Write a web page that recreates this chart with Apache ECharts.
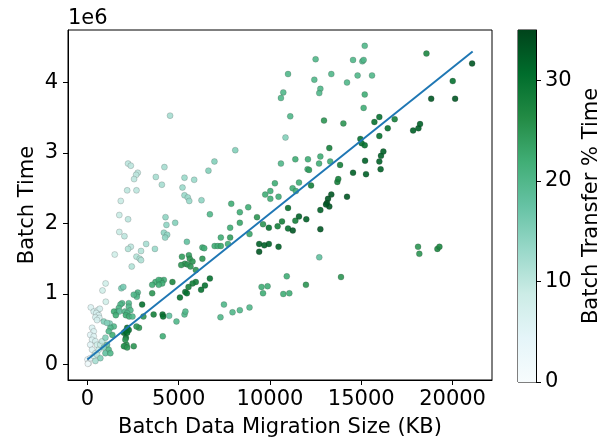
<!DOCTYPE html>
<html>
<head>
<meta charset="utf-8">
<script src="https://cdn.jsdelivr.net/npm/echarts@6/dist/echarts.min.js"></script>
<style>
  html, body { margin: 0; padding: 0; background: #fff; }
  #chart { width: 607px; height: 443px; }
</style>
</head>
<body>
<div id="chart"></div>
<script>
// [migration size KB, batch time (x1e6), transfer % time]
const batches = [
  [4530, 3.53, 12], [8100, 3.04, 15], [10990, 4.12, 20], [10730, 3.86, 20], [10600, 3.78, 20],
  [11110, 3.52, 20], [10850, 3.22, 15], [12500, 4.33, 20], [12430, 4.04, 20], [12760, 3.91, 20],
  [12700, 3.85, 20], [13360, 4.12, 20], [12960, 3.46, 25], [13250, 3.07, 28], [14020, 3.42, 25],
  [14220, 4.00, 20], [14550, 4.32, 20], [14800, 4.10, 20], [15060, 4.30, 20], [15130, 4.32, 20],
  [15190, 4.52, 20], [15590, 4.10, 20], [15190, 3.83, 22], [15130, 3.64, 22], [14950, 3.20, 30],
  [15020, 3.14, 30], [15190, 3.11, 30], [15720, 3.44, 30], [15990, 3.51, 30], [15990, 3.24, 30],
  [16450, 3.35, 30], [16830, 3.48, 28], [17840, 3.32, 32], [18130, 3.35, 32], [18220, 3.41, 32],
  [18570, 4.41, 27], [18830, 3.77, 33], [20010, 4.02, 30], [20140, 3.77, 33], [21070, 4.27, 33],
  // pale points above the fit
  [2230, 2.85, 10], [2380, 2.82, 10], [2760, 2.72, 10], [2670, 2.69, 10], [2560, 2.63, 10],
  [4220, 2.80, 12], [3750, 2.66, 12], [4080, 2.55, 12], [2180, 2.47, 10], [2690, 2.47, 10],
  [1830, 2.32, 9], [5320, 2.65, 13], [5850, 2.62, 13], [5210, 2.51, 13], [5320, 2.40, 13],
  [5500, 2.37, 13], [5580, 2.32, 13], [6250, 2.33, 14], [6630, 2.75, 15], [6960, 2.88, 15],
  [1750, 2.12, 9], [2230, 2.06, 10], [4280, 2.09, 14], [4810, 2.01, 15], [4330, 1.98, 14],
  [1750, 1.88, 9], [2030, 1.82, 10], [4190, 1.87, 14], [4370, 1.84, 14], [4260, 1.80, 14],
  [3220, 1.71, 12], [2380, 1.67, 10], [2230, 1.64, 11], [2940, 1.61, 11], [3700, 1.64, 13],
  [5450, 1.74, 18], [1500, 1.56, 8], [2690, 1.53, 11], [2870, 1.50, 11], [2430, 1.39, 11],
  [2940, 1.48, 11],
  // middle band
  [6710, 2.13, 20], [7880, 2.28, 22], [8350, 2.16, 22], [7820, 1.94, 22], [8350, 2.01, 23],
  [8810, 2.23, 22], [8880, 1.85, 23], [7310, 1.80, 22], [7820, 1.80, 24], [6970, 1.68, 22],
  [7140, 1.68, 22], [7310, 1.68, 23], [6300, 1.66, 22], [6400, 1.65, 22], [7700, 1.71, 22],
  [5180, 1.53, 24], [5560, 1.55, 24], [5610, 1.50, 25], [5760, 1.46, 25], [5340, 1.43, 25],
  [5140, 1.41, 25], [5480, 1.42, 25], [5650, 1.39, 25], [5940, 1.34, 25], [6300, 1.50, 25],
  [6710, 1.22, 30], [6440, 1.12, 30], [6230, 1.06, 30], [5940, 1.17, 28], [5760, 1.15, 28],
  [5540, 1.10, 28], [5360, 1.03, 30], [5450, 1.01, 30], [5070, 0.95, 30], [4660, 1.17, 27],
  [4190, 1.20, 22], [4020, 1.19, 22], [3730, 1.17, 22], [3910, 1.20, 22], [4100, 1.15, 22],
  [3910, 1.13, 22], [3550, 1.13, 22], [3550, 1.01, 25], [3000, 0.85, 30], [3630, 0.71, 28],
  [4120, 0.71, 30], [4150, 0.68, 30], [4480, 0.69, 18], [4880, 0.61, 20], [5320, 0.71, 20],
  [5370, 0.75, 20], [4130, 0.40, 22], [7480, 0.85, 20], [7290, 0.67, 20], [7950, 0.74, 20],
  [8350, 0.77, 20], [8880, 0.81, 20], [2760, 1.02, 20], [2690, 0.99, 20], [1860, 1.08, 16],
  [1970, 1.10, 16], [1900, 0.87, 20], [1810, 0.85, 20], [1720, 0.80, 20], [1630, 0.75, 20],
  [1750, 0.75, 18], [2270, 0.87, 20], [2270, 0.82, 20], [2360, 0.77, 20], [2050, 0.75, 20],
  [2180, 0.73, 20], [1460, 0.75, 22], [1560, 0.70, 22], [2110, 0.70, 22], [2290, 0.68, 22],
  [2470, 0.68, 20], [3070, 0.68, 25], [1000, 1.15, 8], [830, 1.05, 8], [1010, 0.89, 8],
  [1230, 0.58, 15], [190, 0.81, 6], [350, 0.75, 7], [570, 0.77, 7], [680, 0.79, 7],
  [490, 0.73, 7], [620, 0.70, 7], [440, 0.67, 7], [660, 0.66, 7], [530, 0.63, 7],
  // near the origin
  [2830, 0.52, 25], [2690, 0.54, 25], [2180, 0.52, 30], [2080, 0.47, 30], [2270, 0.49, 30],
  [2000, 0.45, 30], [2180, 0.45, 30], [2110, 0.38, 30], [2050, 0.26, 25], [2140, 0.28, 25],
  [2000, 0.26, 25], [2180, 0.24, 25], [2080, 0.35, 25], [2540, 0.26, 25], [1370, 0.42, 22],
  [1450, 0.54, 20], [1260, 0.52, 20], [1170, 0.47, 20], [900, 0.61, 15], [1080, 0.59, 15],
  [260, 0.52, 6], [350, 0.47, 6], [160, 0.42, 5], [350, 0.40, 6], [260, 0.35, 6],
  [440, 0.33, 7], [160, 0.28, 5], [530, 0.28, 8], [260, 0.21, 6], [440, 0.16, 8],
  [620, 0.21, 9], [710, 0.28, 9], [810, 0.33, 10], [990, 0.38, 15], [1080, 0.28, 18],
  [900, 0.24, 15], [1170, 0.21, 20], [990, 0.16, 18], [1260, 0.16, 20], [10, 0.07, 3],
  [80, 0.02, 3], [30, 0.01, 2], [160, 0.09, 4], [350, 0.12, 8], [530, 0.14, 10],
  [710, 0.09, 15], [440, 0.05, 12], [2710, 0.96, 20], [2540, 0.99, 20],
  // right half
  [10600, 2.85, 20], [11390, 2.91, 22], [12080, 2.91, 22], [12760, 2.95, 22], [12690, 2.85, 22],
  [13300, 2.88, 22], [13840, 2.83, 28], [12060, 2.77, 22], [12140, 2.76, 24], [11590, 2.58, 22],
  [11240, 2.50, 22], [11420, 2.46, 22], [12250, 2.54, 28], [10270, 2.57, 22], [10020, 2.46, 22],
  [9740, 2.41, 22], [10020, 2.35, 22], [10470, 2.38, 22], [10990, 2.22, 30], [9290, 2.09, 25],
  [9620, 1.99, 25], [9940, 1.94, 30], [10420, 1.96, 28], [10660, 2.03, 28], [10990, 1.93, 30],
  [11250, 1.90, 33], [11390, 2.04, 28], [11590, 2.10, 32], [11990, 2.06, 32], [12760, 2.19, 32],
  [12760, 1.92, 33], [13180, 2.35, 33], [13120, 2.29, 33], [13250, 2.24, 33], [13070, 2.27, 33],
  [13360, 2.41, 33], [14220, 2.38, 33], [13690, 2.59, 28], [13740, 2.63, 28], [14550, 2.72, 32],
  [15260, 2.70, 32], [15210, 2.89, 32], [15990, 2.88, 32], [16080, 2.96, 32], [16210, 3.02, 32],
  [16060, 2.77, 32], [9410, 1.71, 32], [9690, 1.69, 32], [9940, 1.71, 32], [9410, 1.60, 33],
  [10470, 1.67, 32], [9540, 1.10, 22], [9870, 1.11, 22], [9620, 1.01, 22], [10920, 1.25, 22],
  [10730, 1.00, 22], [11060, 1.01, 22], [11970, 1.13, 25], [12700, 1.52, 18], [13890, 1.24, 25],
  [18110, 1.67, 25], [18180, 1.57, 25], [19170, 1.64, 27], [19280, 1.67, 27]
];

// least-squares fit line end points
const fitSize = [0, 21100];
const fitTime = [0.07, 4.44];

const sizeTicks = [0, 5000, 10000, 15000, 20000];
const timeTicks = [0, 1, 2, 3, 4];
const pctTicks = [0, 10, 20, 30];
const pctMax = 35;

const bugn = ['#f7fcfd', '#e5f5f9', '#ccece6', '#99d8c9', '#66c2a4', '#41ae76', '#238b45', '#006d2c', '#00441b'];

const font = 'DejaVu Sans';
const axisStyle = {
  axisLine: { show: true, onZero: false, lineStyle: { color: '#000', width: 1 } },
  splitLine: { show: false },
  nameTextStyle: { fontSize: 21, color: '#000', fontFamily: font }
};
const plain = v => String(v);

let chart = echarts.init(document.getElementById('chart'), null, { renderer: 'canvas' });

chart.setOption({
  animation: false,
  textStyle: { fontFamily: font },
  grid: [
    { left: 68, top: 30, width: 424, height: 352, show: true, borderColor: '#000', borderWidth: 1 },
    { left: 518, top: 30, width: 18, height: 352, show: true, borderColor: '#000', borderWidth: 1 }
  ],
  xAxis: [
    Object.assign({}, axisStyle, {
      type: 'value', gridIndex: 0, min: -1060, max: 22160,
      axisTick: { show: true, length: 5, customValues: sizeTicks, lineStyle: { color: '#000' } },
      axisLabel: { customValues: sizeTicks, formatter: plain, fontSize: 21, color: '#000', margin: 9 },
      name: 'Batch Data Migration Size (KB)', nameLocation: 'middle', nameGap: 37
    }),
    { type: 'category', gridIndex: 1, data: ['pct'], show: false }
  ],
  yAxis: [
    Object.assign({}, axisStyle, {
      type: 'value', gridIndex: 0, min: -0.22, max: 4.745,
      axisTick: { show: true, length: 5, customValues: timeTicks, lineStyle: { color: '#000' } },
      axisLabel: { customValues: timeTicks, formatter: plain, fontSize: 21, color: '#000', margin: 10 },
      name: 'Batch Time', nameLocation: 'middle', nameGap: 30, nameRotate: 90,
      nameMoveOverlap: false
    }),
    Object.assign({}, axisStyle, {
      type: 'value', gridIndex: 1, min: 0, max: pctMax, position: 'right',
      axisTick: { show: true, length: 5, customValues: pctTicks, lineStyle: { color: '#000' } },
      axisLabel: { customValues: pctTicks, formatter: plain, fontSize: 21, color: '#000', margin: 9 },
      name: 'Batch Transfer % Time', nameLocation: 'middle', nameGap: 45, nameRotate: 90
    })
  ],
  visualMap: {
    show: false, type: 'continuous', min: 0, max: pctMax,
    dimension: 2, seriesIndex: 0,
    inRange: { color: bugn }
  },
  series: [
    {
      type: 'scatter',
      data: batches,
      symbolSize: 6,
      itemStyle: { borderColor: 'rgba(40,40,40,0.35)', borderWidth: 0.6, opacity: 0.9 },
      z: 2
    },
    {
      type: 'line',
      data: fitSize.map((s, i) => [s, fitTime[i]]),
      showSymbol: false,
      lineStyle: { color: '#1f77b4', width: 2 },
      z: 3
    },
    {
      type: 'bar',
      xAxisIndex: 1, yAxisIndex: 1,
      data: [pctMax],
      barWidth: '100%',
      silent: true,
      itemStyle: {
        color: {
          type: 'linear', x: 0, y: 1, x2: 0, y2: 0,
          colorStops: bugn.map((c, i) => ({ offset: i / (bugn.length - 1), color: c }))
        }
      }
    }
  ],
  graphic: [
    {
      type: 'text', x: 68, y: 19,
      style: { text: '1e6', fontSize: 21, fontFamily: font, fill: '#000', verticalAlign: 'middle' }
    }
  ]
});
</script>
</body>
</html>
